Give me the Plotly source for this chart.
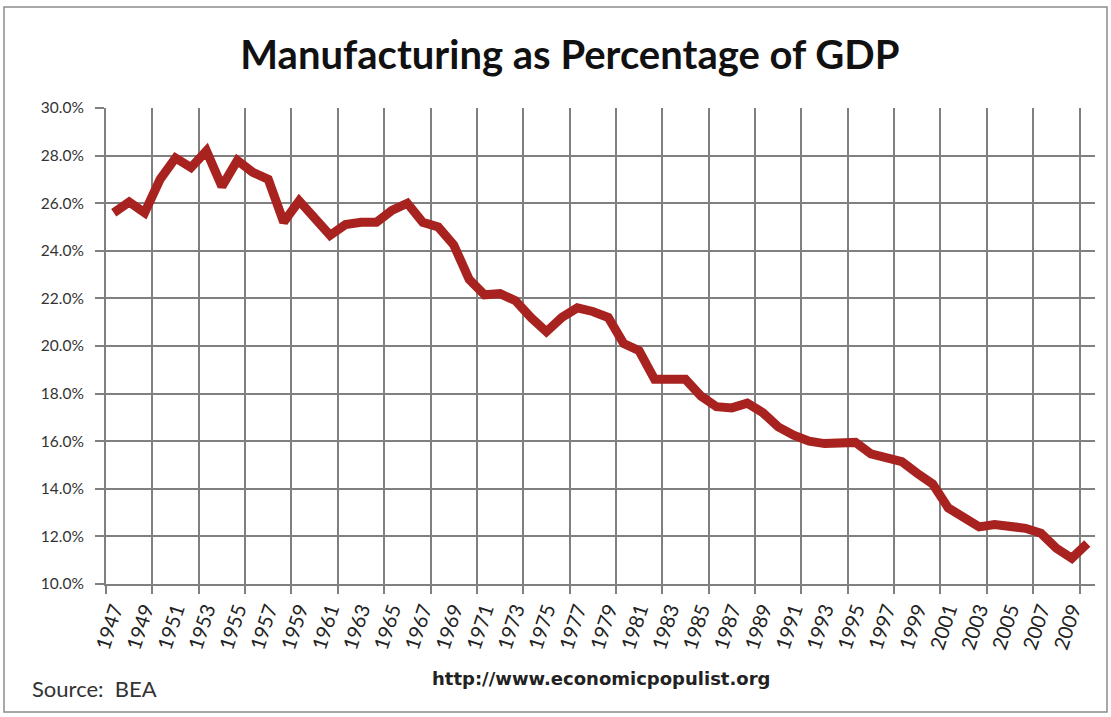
import plotly.graph_objects as go

years = list(range(1947, 2011))
manufacturing_pct = [
    25.6, 26.05, 25.6, 27.0, 27.9, 27.5, 28.2, 26.7, 27.8, 27.3,
    27.0, 25.2, 26.1, 25.4, 24.65, 25.1, 25.2, 25.2, 25.7, 26.0,
    25.2, 25.0, 24.25, 22.8, 22.15, 22.2, 21.9, 21.2, 20.6, 21.2,
    21.6, 21.45, 21.2, 20.1, 19.8, 18.6, 18.6, 18.6, 17.9, 17.45,
    17.4, 17.6, 17.2, 16.6, 16.25, 16.0, 15.9, 15.9, 15.95, 15.47,
    15.3, 15.14, 14.65, 14.2, 13.2, 12.83, 12.4, 12.5, 12.44, 12.34,
    12.13, 11.5, 11.08, 11.7,
]
label_years = list(range(1947, 2010, 2))
grid_positions = [1946.5 + 3 * k for k in range(22)]
y_ticks = [10, 12, 14, 16, 18, 20, 22, 24, 26, 28, 30]

font_family = "Lato, 'Open Sans', sans-serif"

fig = go.Figure()
fig.add_trace(go.Scatter(
    x=years, y=manufacturing_pct, mode="lines",
    line=dict(color="#A8221F", width=9),
    hoverinfo="x+y", showlegend=False,
))

fig.update_layout(
    width=1111, height=717,
    margin=dict(l=106, r=16, t=108, b=133),
    paper_bgcolor="white", plot_bgcolor="white",
    title=dict(
        text="<b>Manufacturing as Percentage of GDP</b>",
        x=0.513, xref="container", xanchor="center",
        y=1 - 55 / 717, yref="container", yanchor="middle",
        font=dict(family=font_family, size=40, color="#111111"),
    ),
    font=dict(family=font_family, color="#333333"),
    xaxis=dict(
        range=[1946.5, 2010.5],
        tickmode="array", tickvals=label_years,
        ticktext=[str(y) for y in label_years],
        tickangle=-72, ticks="", showgrid=False,
        tickfont=dict(size=20, color="#222222"),
        ticklabelstandoff=4,
        showline=True, linecolor="#808080", linewidth=2,
        zeroline=False,
        minor=dict(tickvals=grid_positions, showgrid=True,
                   gridcolor="#808080", gridwidth=2,
                   ticks="outside", ticklen=8, tickcolor="#808080",
                   tickwidth=2),
    ),
    yaxis=dict(
        range=[10, 30],
        tickmode="array", tickvals=y_ticks,
        ticktext=[f"{v:.1f}%" for v in y_ticks],
        showgrid=True, gridcolor="#808080", gridwidth=2,
        ticks="outside", ticklen=9, tickcolor="#808080", tickwidth=2,
        tickfont=dict(size=15.5, color="#333333"),
        ticklabelstandoff=8,
        showline=True, linecolor="#808080", linewidth=2,
        zeroline=False,
    ),
    shapes=[dict(
        type="rect", xref="paper", yref="paper",
        x0=(4 - 106) / 989, x1=(1107 - 106) / 989,
        y0=(584 - 712) / 476, y1=(584 - 7) / 476,
        line=dict(color="#8c8c8c", width=1.5), layer="below",
    )],
    annotations=[
        dict(text="Source:  BEA", xref="paper", yref="paper",
             x=(30 - 106) / 989, y=(584 - 688) / 476,
             xanchor="left", yanchor="middle", showarrow=False,
             font=dict(family=font_family, size=22, color="#333333")),
        dict(text="<b>http://www.economicpopulist.org</b>", xref="paper", yref="paper",
             x=(601 - 106) / 989, y=(584 - 678) / 476,
             xanchor="center", yanchor="middle", showarrow=False,
             font=dict(family="'DejaVu Sans', sans-serif", size=18, color="#222222")),
    ],
)

fig.write_html("out.html")
